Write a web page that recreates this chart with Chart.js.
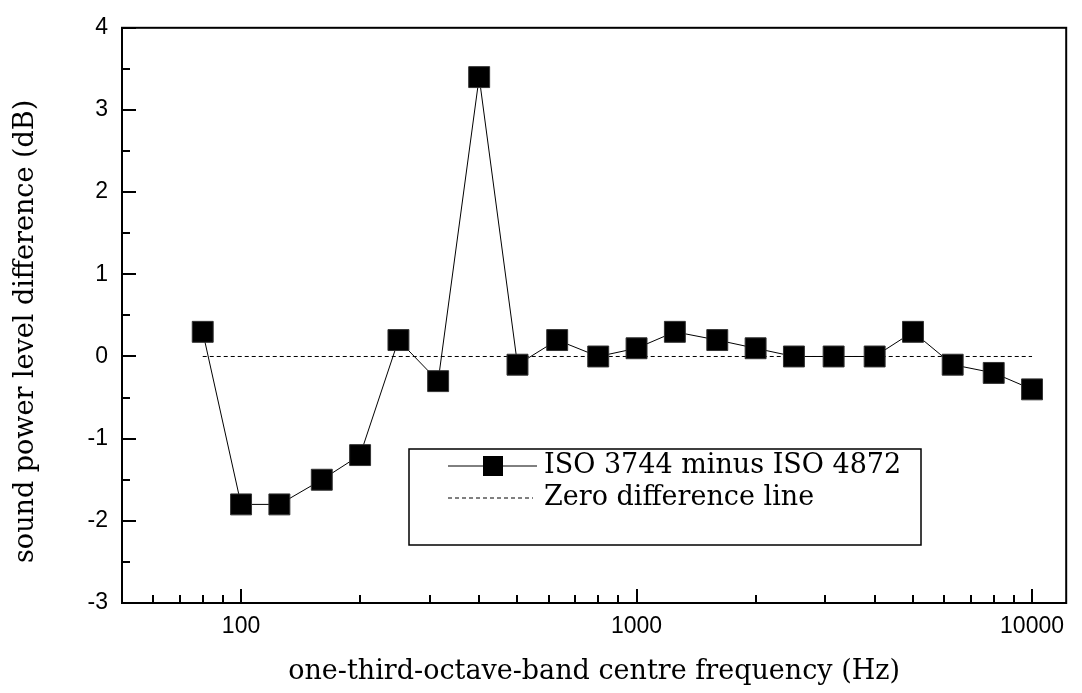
<!DOCTYPE html>
<html lang="en">
<head>
  <meta charset="UTF-8" />
  <title>Sound power level difference</title>
  <script src="https://cdn.jsdelivr.net/npm/chart.js"></script>
  <style>
    body {
      margin: 0;
      background: #fff;
    }
    #wrap {
      width: 1082px;
      height: 693px;
    }
  </style>
</head>
<body>
  <div id="wrap">
    <canvas id="diffChart" width="1082" height="693"></canvas>
  </div>

  <script>
    // one-third-octave band centres (Hz) and measured difference (dB)
    const bandFreqs = [80, 100, 125, 160, 200, 250, 315, 400, 500, 630, 800,
                       1000, 1250, 1600, 2000, 2500, 3150, 4000, 5000, 6300, 8000, 10000];
    const levelDiffs = [0.3, -1.8, -1.8, -1.5, -1.2, 0.2, -0.3, 3.4, -0.1, 0.2, 0.0,
                        0.1, 0.3, 0.2, 0.1, 0.0, 0.0, 0.0, 0.3, -0.1, -0.2, -0.4];
    const zeroLineX = [80, 10000];
    const zeroLineY = [0, 0];

    const xMajorTicks = [100, 1000, 10000];
    const xMinorTicks = [60, 70, 80, 90, 200, 300, 400, 500, 600, 700, 800, 900,
                         2000, 3000, 4000, 5000, 6000, 7000, 8000, 9000];
    const yMajorTicks = [-3, -2, -1, 0, 1, 2, 3, 4];
    const yMinorTicks = [-2.5, -1.5, -0.5, 0.5, 1.5, 2.5, 3.5];

    const seriesLabel = "ISO 3744 minus ISO 4872";
    const zeroLabel = "Zero difference line";
    const xTitle = "one-third-octave-band centre frequency (Hz)";
    const yTitle = "sound power level difference (dB)";
    const serif = "'DejaVu Serif', serif";
    const sans = "'Liberation Sans', Arial, sans-serif";

    // frame + inward ticks, like the original plot
    const framePlugin = {
      id: "frame",
      afterDraw(chart) {
        const { ctx, chartArea: a, scales } = chart;
        ctx.save();
        ctx.strokeStyle = "#000";
        ctx.lineWidth = 2;
        ctx.strokeRect(a.left, a.top, a.right - a.left, a.bottom - a.top);

        ctx.beginPath();
        xMajorTicks.forEach(v => {
          const x = Math.round(scales.x.getPixelForValue(v));
          ctx.moveTo(x, a.bottom); ctx.lineTo(x, a.bottom - 14);
        });
        xMinorTicks.forEach(v => {
          const x = Math.round(scales.x.getPixelForValue(v));
          ctx.moveTo(x, a.bottom); ctx.lineTo(x, a.bottom - 8);
        });
        yMajorTicks.forEach(v => {
          const y = Math.round(scales.y.getPixelForValue(v));
          ctx.moveTo(a.left, y); ctx.lineTo(a.left + 14, y);
        });
        yMinorTicks.forEach(v => {
          const y = Math.round(scales.y.getPixelForValue(v));
          ctx.moveTo(a.left, y); ctx.lineTo(a.left + 8, y);
        });
        ctx.stroke();

        // y axis title, sits a little below the plot centre in the original
        ctx.fillStyle = "#000";
        ctx.font = "27px " + serif;
        ctx.textAlign = "center";
        ctx.textBaseline = "middle";
        ctx.translate(26, (a.top + a.bottom) / 2 + 16);
        ctx.rotate(-Math.PI / 2);
        ctx.fillText(yTitle, 0, 0);
        ctx.restore();
      }
    };

    // boxed legend inside the plot area
    const legendPlugin = {
      id: "boxLegend",
      afterDraw(chart) {
        const ctx = chart.ctx;
        const box = { x: 409, y: 449, w: 512, h: 96 };
        ctx.save();
        ctx.strokeStyle = "#000";
        ctx.lineWidth = 1.5;
        ctx.strokeRect(box.x, box.y, box.w, box.h);

        const r1 = box.y + 17, r2 = box.y + 49;
        ctx.lineWidth = 1;
        ctx.beginPath();
        ctx.moveTo(448, r1); ctx.lineTo(537, r1);
        ctx.stroke();
        ctx.fillStyle = "#000";
        ctx.fillRect(483, r1 - 10, 20, 20);

        ctx.setLineDash([4, 3]);
        ctx.beginPath();
        ctx.moveTo(448, r2); ctx.lineTo(533, r2);
        ctx.stroke();
        ctx.setLineDash([]);

        ctx.font = "27px " + serif;
        ctx.textBaseline = "middle";
        ctx.fillText(seriesLabel, 544, r1);
        ctx.fillText(zeroLabel, 544, r2);
        ctx.restore();
      }
    };

    const diffChart = new Chart(document.getElementById("diffChart").getContext("2d"), {
      type: "line",
      data: {
        datasets: [
          {
            label: seriesLabel,
            data: bandFreqs.map((f, i) => ({ x: f, y: levelDiffs[i] })),
            borderColor: "#000",
            borderWidth: 1,
            backgroundColor: "#000",
            pointStyle: "rect",
            pointRadius: 14.8,
            pointBorderWidth: 1,
            pointBorderColor: "#333",
            tension: 0
          },
          {
            label: zeroLabel,
            data: zeroLineX.map((f, i) => ({ x: f, y: zeroLineY[i] })),
            borderColor: "#000",
            borderWidth: 1,
            borderDash: [4, 3],
            pointRadius: 0
          }
        ]
      },
      options: {
        responsive: false,
        animation: false,
        devicePixelRatio: 1,
        layout: { padding: { top: 23, right: 3, left: 0, bottom: 0 } },
        plugins: {
          legend: { display: false },
          tooltip: { enabled: false }
        },
        scales: {
          x: {
            type: "logarithmic",
            position: "bottom",
            min: 50,
            max: 12200,
            grid: { display: false, drawTicks: false },
            border: { display: false },
            afterBuildTicks: scale => {
              scale.ticks = xMajorTicks.map(v => ({ value: v, major: true }));
            },
            afterFit: scale => { scale.height = 90; },
            ticks: {
              autoSkip: false,
              maxRotation: 0,
              padding: 10,
              color: "#000",
              font: { family: sans, size: 23 },
              callback: v => String(v)
            },
            title: {
              display: true,
              text: xTitle,
              color: "#000",
              font: { family: serif, size: 27 },
              padding: { top: 0, bottom: 5 }
            }
          },
          y: {
            min: -3,
            max: 4,
            grid: { display: false, drawTicks: false },
            border: { display: false },
            afterBuildTicks: scale => {
              scale.ticks = yMajorTicks.map(v => ({ value: v }));
            },
            afterFit: scale => { scale.width = 122; },
            ticks: {
              padding: 14,
              color: "#000",
              font: { family: sans, size: 23 },
              callback: v => String(v)
            },
            title: { display: false }
          }
        }
      },
      plugins: [framePlugin, legendPlugin]
    });
  </script>
</body>
</html>
